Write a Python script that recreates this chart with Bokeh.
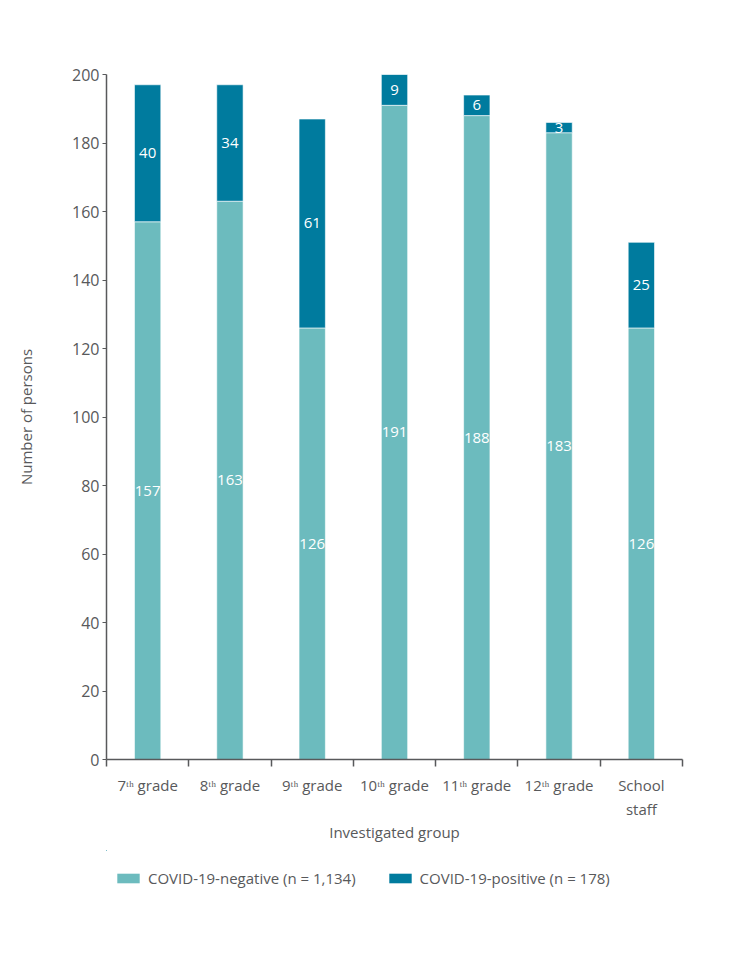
from bokeh.plotting import figure
from bokeh.layouts import column
from bokeh.models import Range1d, FixedTicker, ColumnDataSource, Legend, LegendItem
from bokeh.core.properties import value
from bokeh.embed import file_html
from bokeh.resources import INLINE

groups = ["7ᵗʰ grade", "8ᵗʰ grade", "9ᵗʰ grade", "10ᵗʰ grade", "11ᵗʰ grade", "12ᵗʰ grade", "School\nstaff"]
negative = [157, 163, 126, 191, 188, 183, 126]
positive = [40, 34, 61, 9, 6, 3, 25]
series_labels = ["COVID-19-negative (n = 1,134)", "COVID-19-positive (n = 178)"]
y_ticks = list(range(0, 201, 20))

FONT = "Open Sans"
GREY = "#58595b"
C_NEG = "#6cbbbe"
C_POS = "#007b9e"

xpos = [i + 1 for i in range(len(groups))]
src = ColumnDataSource(dict(x=xpos, neg=negative, pos=positive,
                            neg_mid=[n / 2 for n in negative],
                            pos_mid=[n + p / 2 for n, p in zip(negative, positive)],
                            neg_txt=[str(n) for n in negative],
                            pos_txt=[str(p) for p in positive]))

W = 710
p = figure(width=W, height=850, output_backend="svg", toolbar_location=None,
           x_range=Range1d(0.5, len(groups) + 0.5), y_range=Range1d(0, 200),
           min_border_left=106, min_border_right=28, min_border_top=74, min_border_bottom=91)
p.outline_line_color = None
p.grid.visible = False

p.vbar_stack(["neg", "pos"], x="x", width=0.32, source=src, color=[C_NEG, C_POS],
             line_color="white", line_width=0.6)

p.text(x="x", y="neg_mid", text="neg_txt", source=src, text_color="white",
       text_font=value(FONT), text_font_size="15px", text_align="center", text_baseline="middle")
p.text(x="x", y="pos_mid", text="pos_txt", source=src, text_color="white",
       text_font=value(FONT), text_font_size="15px", text_align="center", text_baseline="middle")

# y axis
ya = p.yaxis[0]
ya.ticker = FixedTicker(ticks=y_ticks)
ya.axis_label = "Number of persons"
ya.axis_label_text_font = FONT
ya.axis_label_text_font_style = "normal"
ya.axis_label_text_font_size = "15px"
ya.axis_label_text_color = GREY
ya.axis_label_standoff = 33
ya.major_label_text_font = FONT
ya.major_label_text_font_size = "16px"
ya.major_label_text_color = GREY
ya.major_label_standoff = 3
ya.major_tick_out = 4
ya.major_tick_in = 0
ya.minor_tick_out = 0
ya.minor_tick_in = 0
ya.axis_line_color = GREY
ya.axis_line_width = 1.5
ya.major_tick_line_color = GREY

# x axis
xa = p.xaxis[0]
xa.ticker = FixedTicker(ticks=xpos, minor_ticks=[x - 0.5 for x in xpos] + [xpos[-1] + 0.5])
xa.major_label_overrides = {x: g for x, g in zip(xpos, groups)}
xa.major_tick_out = 0
xa.major_tick_in = 0
xa.minor_tick_out = 7
xa.minor_tick_in = 0
xa.minor_tick_line_color = GREY
xa.minor_tick_line_width = 1.5
xa.axis_line_color = GREY
xa.axis_line_width = 1.5
xa.major_label_text_font = FONT
xa.major_label_text_font_size = "15px"
xa.major_label_text_color = GREY
xa.major_label_standoff = 8
xa.axis_label = "Investigated group"
xa.axis_label_text_font = FONT
xa.axis_label_text_font_style = "normal"
xa.axis_label_text_font_size = "15px"
xa.axis_label_text_color = GREY
xa.axis_label_standoff = 0

# legend figure (frame aligned with the chart's frame by the column layout);
# its bars lie wholly outside its visible ranges, so only the legend shows
p2 = figure(width=W, height=60, output_backend="svg", toolbar_location=None,
            x_range=Range1d(1000, 1001), y_range=Range1d(-2000, -1000),
            x_axis_type=None, y_axis_type=None,
            min_border_left=0, min_border_right=0, min_border_top=0, min_border_bottom=0)
p2.outline_line_color = None
p2.grid.visible = False
r_neg, r_pos = p2.vbar_stack(["neg", "pos"], x="x", width=0.32, source=src,
                             fill_color=[C_NEG, C_POS], line_color=None)
lg = Legend(items=[LegendItem(label=series_labels[0], renderers=[r_neg]),
                   LegendItem(label=series_labels[1], renderers=[r_pos])],
            orientation="horizontal", location=(8, 22))
lg.border_line_color = None
lg.background_fill_alpha = 0
lg.padding = 0
lg.margin = 0
lg.spacing = 30
lg.glyph_width = 28
lg.glyph_height = 12
lg.label_standoff = 6
lg.label_text_font = FONT
lg.label_text_font_size = "15px"
lg.label_text_color = GREY
p2.add_layout(lg, "center")

layout = column(p, p2, spacing=0)
open("out.html", "w").write(file_html(layout, INLINE))
